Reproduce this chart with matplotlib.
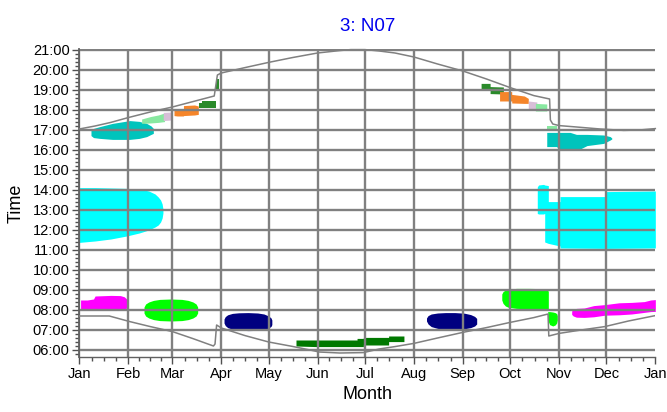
import matplotlib
matplotlib.use('Agg')
import matplotlib.pyplot as plt

plt.rcParams['font.family'] = ['Liberation Sans', 'DejaVu Sans']

# month axis (day of year)
month_days = [0, 31, 59, 90, 120, 151, 181, 212, 243, 273, 304, 334, 365]
month_names = ['Jan', 'Feb', 'Mar', 'Apr', 'May', 'Jun', 'Jul', 'Aug', 'Sep', 'Oct', 'Nov', 'Dec', 'Jan']
hours = list(range(6, 22))

# sunset / sunrise (hours)
sunset_days = [0, 10, 20, 31, 45, 59, 72, 85.5, 87.5, 90, 105, 120, 135, 151, 165, 172, 181,
               190, 200, 212, 227, 243, 258, 273, 288, 298, 298.5, 300, 304, 315, 330, 345, 355, 365]
sunset = [17.05, 17.2, 17.38, 17.62, 17.9, 18.15, 18.42, 18.7, 19.75, 19.85, 20.12, 20.38, 20.62,
          20.85, 20.97, 21.02, 21.02, 20.95, 20.85, 20.65, 20.3, 19.95, 19.55, 19.12, 18.72, 18.55,
          17.5, 17.3, 17.22, 17.15, 17.05, 16.98, 17.0, 17.07]
sunrise_days = [0, 19, 32, 45, 59, 72, 85, 86, 87, 90, 105, 120, 135, 145, 152, 165, 180, 190,
                200, 212, 227, 243, 258, 273, 288, 297, 297.5, 304, 318, 333, 348, 365]
sunrise = [7.7, 7.7, 7.42, 7.17, 6.92, 6.57, 6.2, 6.3, 7.25, 7.1, 6.72, 6.4, 6.18, 6.02, 5.9, 5.85,
           5.87, 6.05, 6.17, 6.33, 6.6, 6.88, 7.12, 7.38, 7.62, 7.8, 6.7, 6.83, 7.0, 7.17, 7.45, 7.72]

# activity patches: days, lower edge, upper edge (hours)
cyan_jan_days = [0, 10, 20, 30, 38, 44, 48, 50, 51.5, 52.5, 53]
cyan_jan_lo = [11.38, 11.45, 11.55, 11.7, 11.85, 12.0, 12.15, 12.25, 12.4, 12.6, 12.85]
cyan_jan_hi = [14.12, 14.12, 14.1, 14.08, 14.05, 13.95, 13.8, 13.65, 13.5, 13.3, 13.05]

cyan_nov_days = [290.2, 291, 294.2, 294.9, 294.9, 297.2, 297.2, 304.6, 304.6, 334, 334, 365]
cyan_nov_lo = [12.83, 12.8, 12.8, 12.83, 11.4, 11.33, 11.33, 11.2, 11.1, 11.08, 11.08, 11.1]
cyan_nov_hi = [14.15, 14.25, 14.28, 14.25, 14.25, 14.22, 13.42, 13.42, 13.67, 13.67, 13.92, 13.95]

magenta_jan_days = [0.8, 5, 9, 10, 20, 26, 28.5, 30, 31]
magenta_jan_lo = [8.0, 8.0, 8.0, 8.0, 7.98, 8.0, 8.03, 8.1, 8.2]
magenta_jan_hi = [8.5, 8.5, 8.55, 8.7, 8.73, 8.72, 8.66, 8.55, 8.4]

lime_feb_days = [41, 42, 44, 47, 51, 58, 65, 69, 72, 74, 75]
lime_feb_lo = [7.85, 7.7, 7.6, 7.52, 7.47, 7.45, 7.47, 7.52, 7.6, 7.7, 7.85]
lime_feb_hi = [8.15, 8.3, 8.4, 8.48, 8.53, 8.55, 8.53, 8.48, 8.4, 8.3, 8.15]

navy_apr_days = [91.7, 92.5, 94, 97, 101, 107, 113, 117, 120, 121.5, 122]
navy_apr_lo = [7.35, 7.22, 7.12, 7.04, 6.99, 6.97, 6.98, 7.02, 7.1, 7.18, 7.27]
navy_apr_hi = [7.55, 7.67, 7.76, 7.83, 7.86, 7.87, 7.85, 7.8, 7.7, 7.6, 7.5]

green_jun_days = [137.3, 150, 176, 176, 180, 180, 196, 196, 205.7]
green_jun_lo = [6.2, 6.17, 6.17, 6.17, 6.17, 6.25, 6.25, 6.42, 6.42]
green_jun_hi = [6.5, 6.5, 6.5, 6.58, 6.58, 6.63, 6.63, 6.7, 6.7]

navy_aug_days = [220, 221, 223, 227, 232, 238, 244, 248, 250.5, 251.8]
navy_aug_lo = [7.45, 7.3, 7.17, 7.08, 7.03, 7.03, 7.06, 7.12, 7.2, 7.3]
navy_aug_hi = [7.6, 7.72, 7.8, 7.85, 7.87, 7.87, 7.84, 7.77, 7.68, 7.58]

lime_oct_days = [267.7, 268.5, 270, 272, 277, 285, 292, 296, 297.2]
lime_oct_lo = [8.5, 8.33, 8.2, 8.13, 8.08, 8.06, 8.05, 8.05, 8.05]
lime_oct_hi = [8.8, 8.92, 9.0, 9.05, 9.08, 9.08, 9.07, 9.0, 8.95]

lime_nov_days = [296.8, 298, 300, 301.5, 302.5, 302.9]
lime_nov_lo = [7.5, 7.27, 7.2, 7.25, 7.35, 7.5]
lime_nov_hi = [7.92, 7.92, 7.9, 7.87, 7.82, 7.72]

magenta_dec_days = [312, 313, 315, 320, 326, 333, 342, 350, 358, 362, 365]
magenta_dec_lo = [7.78, 7.7, 7.64, 7.63, 7.66, 7.74, 7.76, 7.8, 7.88, 7.92, 7.93]
magenta_dec_hi = [7.95, 8.03, 8.08, 8.1, 8.22, 8.27, 8.36, 8.38, 8.42, 8.5, 8.52]

teal_jan_days = [7.4, 9, 13, 21, 32, 38, 42.7, 45.5, 46.9]
teal_jan_lo = [16.72, 16.62, 16.58, 16.53, 16.53, 16.58, 16.67, 16.78, 16.83]
teal_jan_hi = [17.0, 17.08, 17.17, 17.33, 17.47, 17.43, 17.33, 17.2, 17.08]

teal_nov_days = [296.2, 302.5, 303.6, 311, 315, 317.4, 321.7, 332.2, 336.4, 337.4]
teal_nov_lo = [16.17, 16.17, 16.05, 16.05, 16.05, 16.05, 16.22, 16.33, 16.5, 16.55]
teal_nov_hi = [16.88, 16.88, 16.88, 16.88, 16.78, 16.78, 16.78, 16.75, 16.67, 16.6]

mint_feb_days = [39.5, 45, 50, 54]
mint_feb_lo = [17.33, 17.35, 17.38, 17.42]
mint_feb_hi = [17.55, 17.67, 17.75, 17.85]

lilac_feb_days = [53.2, 58.6]
lilac_feb_lo = [17.47, 17.5]
lilac_feb_hi = [17.88, 17.9]

orange_mar_days = [60, 62, 66, 66, 73, 75.4]
orange_mar_lo = [17.72, 17.7, 17.7, 17.72, 17.75, 17.78]
orange_mar_hi = [17.98, 18.0, 18.02, 18.22, 18.25, 18.2]

forest_mar_days = [76, 78, 78, 86.6]
forest_mar_lo = [18.08, 18.08, 18.08, 18.08]
forest_mar_hi = [18.33, 18.33, 18.45, 18.45]

forest_apr_days = [86.8, 88.8]
forest_apr_lo = [19.05, 19.05]
forest_apr_hi = [19.55, 19.55]

forest_sep_days = [254.6, 260.3, 260.3, 268.7]
forest_sep_lo = [19.0, 19.0, 18.82, 18.8]
forest_sep_hi = [19.33, 19.33, 19.17, 19.15]

orange_oct_days = [266.3, 274, 274, 282, 284.5]
orange_oct_lo = [18.45, 18.45, 18.35, 18.33, 18.33]
orange_oct_hi = [18.92, 18.92, 18.78, 18.7, 18.58]

lilac_oct_days = [284.5, 289.9]
lilac_oct_lo = [18.0, 18.0]
lilac_oct_hi = [18.45, 18.4]

mint_oct_days = [289, 296.2]
mint_oct_lo = [17.95, 17.95]
mint_oct_hi = [18.33, 18.3]

mint_nov_days = [296.6, 302.9]
mint_nov_lo = [16.95, 16.95]
mint_nov_hi = [17.2, 17.2]

patches = [
    (cyan_jan_days, cyan_jan_lo, cyan_jan_hi, '#00ffff'),
    (cyan_nov_days, cyan_nov_lo, cyan_nov_hi, '#00ffff'),
    (magenta_jan_days, magenta_jan_lo, magenta_jan_hi, '#ff00ff'),
    (magenta_dec_days, magenta_dec_lo, magenta_dec_hi, '#ff00ff'),
    (lime_feb_days, lime_feb_lo, lime_feb_hi, '#00ff00'),
    (lime_oct_days, lime_oct_lo, lime_oct_hi, '#00ff00'),
    (lime_nov_days, lime_nov_lo, lime_nov_hi, '#00ff00'),
    (navy_apr_days, navy_apr_lo, navy_apr_hi, '#000080'),
    (navy_aug_days, navy_aug_lo, navy_aug_hi, '#000080'),
    (green_jun_days, green_jun_lo, green_jun_hi, '#007800'),
    (teal_jan_days, teal_jan_lo, teal_jan_hi, '#00c4bc'),
    (teal_nov_days, teal_nov_lo, teal_nov_hi, '#00c4bc'),
    (mint_feb_days, mint_feb_lo, mint_feb_hi, '#88e8a0'),
    (lilac_feb_days, lilac_feb_lo, lilac_feb_hi, '#d8bfd8'),
    (orange_mar_days, orange_mar_lo, orange_mar_hi, '#f5852a'),
    (forest_mar_days, forest_mar_lo, forest_mar_hi, '#2a8a2a'),
    (forest_apr_days, forest_apr_lo, forest_apr_hi, '#2a8a2a'),
    (forest_sep_days, forest_sep_lo, forest_sep_hi, '#2a8a2a'),
    (orange_oct_days, orange_oct_lo, orange_oct_hi, '#f5852a'),
    (lilac_oct_days, lilac_oct_lo, lilac_oct_hi, '#d8bfd8'),
    (mint_oct_days, mint_oct_lo, mint_oct_hi, '#88e8a0'),
    (mint_nov_days, mint_nov_lo, mint_nov_hi, '#88e8a0'),
]

fig = plt.figure(figsize=(6.67, 4.12), dpi=100)
ax = fig.add_axes([0.1189, 0.1335, 0.8636, 0.7476])

for d, lo, hi, c in patches:
    ax.fill_between(d, lo, hi, color=c, linewidth=0, zorder=1)

grid_col = '#808080'
for h in hours:
    ax.axhline(h, color=grid_col, lw=1.7, zorder=2)
for m in month_days[:-1]:
    ax.axvline(m, color=grid_col, lw=1.7, zorder=2)

ax.plot(sunset_days, sunset, color='#808080', lw=1.1, zorder=3, clip_on=False)
ax.plot(sunrise_days, sunrise, color='#808080', lw=1.1, zorder=3)

ax.set_xlim(0, 365)
ax.set_ylim(5.65, 21.05)

ax.set_xticks(month_days)
ax.set_xticklabels(month_names)
minor_x = []
for a, b in zip(month_days[:-1], month_days[1:]):
    minor_x += [a + (b - a) * k / 4 for k in (1, 2, 3)]
ax.set_xticks(minor_x, minor=True)

ax.set_yticks(hours)
ax.set_yticklabels(['%02d:00' % h for h in hours])
ax.set_yticks([5.8] + [h + k * 0.2 for h in hours[:-1] for k in (1, 2, 3, 4)], minor=True)

ax.tick_params(axis='both', which='major', length=5, width=1, color='#505050', labelsize=10.5, pad=2)
ax.tick_params(axis='both', which='minor', length=3, width=1, color='#505050')

for s in ['top', 'right']:
    ax.spines[s].set_visible(False)
ax.spines['left'].set_color('#606060')
ax.spines['left'].set_linewidth(1.3)
ax.spines['bottom'].set_color('#606060')
ax.spines['bottom'].set_linewidth(1.0)

ax.set_xlabel('Month', fontsize=13, labelpad=4)
ax.set_ylabel('Time', fontsize=13, labelpad=6)
ax.set_title('3: N07', color='#0000ee', fontsize=13.5, pad=13)

fig.savefig('out.png', dpi=100)
